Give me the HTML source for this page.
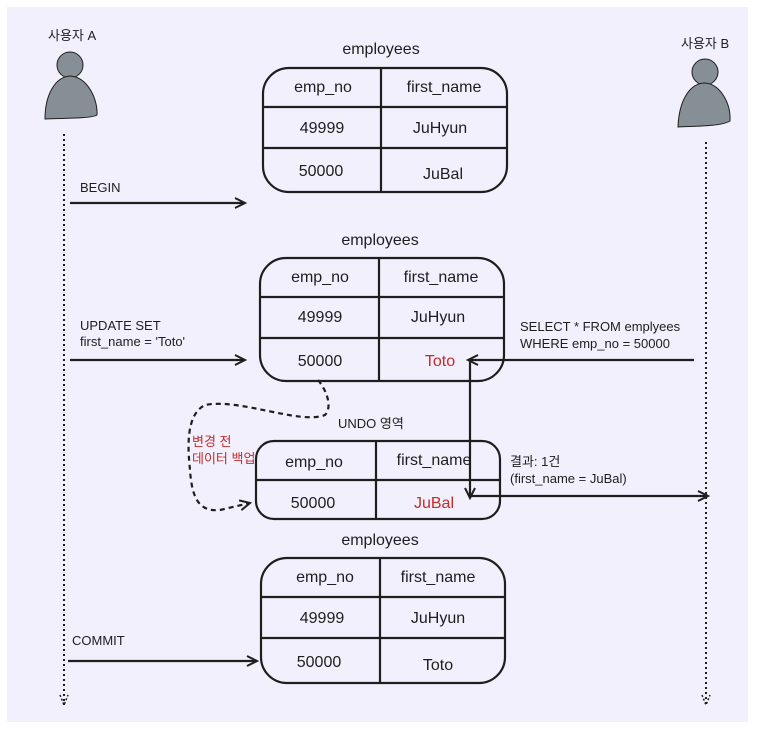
<!DOCTYPE html>
<html><head><meta charset="utf-8"><style>
html,body{margin:0;padding:0;background:#fff;}
svg{display:block;}
text{font-family:"Liberation Sans","Noto Sans CJK KR",sans-serif;fill:#1e1e1e;}
</style></head><body>
<svg width="758" height="739" viewBox="0 0 758 739" xmlns="http://www.w3.org/2000/svg">
<defs>
<marker id="ah" markerWidth="14" markerHeight="14" refX="11" refY="7" orient="auto" markerUnits="userSpaceOnUse">
<path d="M1,2 L11,7 L1,12" fill="none" stroke="#1e1e1e" stroke-width="2"/>
</marker>
</defs>
<rect x="7" y="7" width="741" height="715" fill="#f1f0fc"/>

<text x="48" y="40" font-size="13">사용자 A</text>
<circle cx="70" cy="65" r="13" fill="#868e96" stroke="#1e1e1e" stroke-width="1"/>
<path d="M45,119 C45,95 55,77 70,76 C88,77 98,100 97,115 C90,119 60,118 45,119 Z" fill="#868e96" stroke="#1e1e1e" stroke-width="1"/>
<line x1="64" y1="134" x2="64" y2="705" stroke="#1e1e1e" stroke-width="2" stroke-dasharray="2,3"/>
<path d="M60,695 L64,705 L68,695" fill="none" stroke="#1e1e1e" stroke-width="1.5" stroke-dasharray="2,2"/>

<text x="681" y="48" font-size="13">사용자 B</text>
<circle cx="705" cy="72" r="13" fill="#868e96" stroke="#1e1e1e" stroke-width="1"/>
<path d="M678,127 C679,100 690,83 705,83 C720,84 731,103 730,121 C720,127 690,126 678,127 Z" fill="#868e96" stroke="#1e1e1e" stroke-width="1"/>
<line x1="706" y1="142" x2="706" y2="705" stroke="#1e1e1e" stroke-width="2" stroke-dasharray="2,3"/>
<path d="M702,695 L706,705 L710,695" fill="none" stroke="#1e1e1e" stroke-width="1.5" stroke-dasharray="2,2"/>

<g stroke="#1e1e1e" stroke-width="2.2" fill="none">
<rect x="263" y="68" width="244" height="124" rx="26"/>
<line x1="263" y1="107" x2="507" y2="107"/><line x1="263" y1="148" x2="507" y2="148"/>
<line x1="381" y1="68" x2="381" y2="192"/>
<rect x="260" y="258" width="244" height="123" rx="26"/>
<line x1="260" y1="297" x2="504" y2="297"/><line x1="260" y1="338" x2="504" y2="338"/>
<line x1="379" y1="258" x2="379" y2="381"/>
<rect x="256" y="441" width="244" height="78" rx="18"/>
<line x1="256" y1="480" x2="500" y2="480"/>
<line x1="376" y1="441" x2="376" y2="519"/>
<rect x="261" y="558" width="244" height="125" rx="26"/>
<line x1="261" y1="597" x2="505" y2="597"/><line x1="261" y1="638" x2="505" y2="638"/>
<line x1="380" y1="558" x2="380" y2="683"/>

<line x1="70" y1="203" x2="245" y2="203" marker-end="url(#ah)"/>
<line x1="70" y1="360" x2="245" y2="360" marker-end="url(#ah)"/>
<line x1="694" y1="360" x2="468" y2="360" marker-end="url(#ah)"/>
<line x1="470" y1="362" x2="470" y2="498" marker-end="url(#ah)"/>
<line x1="470" y1="496" x2="708" y2="496" marker-end="url(#ah)"/>
<line x1="68" y1="661" x2="257" y2="661" marker-end="url(#ah)"/>
<path d="M318,380 C328,392 332,408 325,415 C300,425 240,398 205,405 C185,415 188,450 190,470 C192,500 200,512 220,510 L250,503" stroke-dasharray="5,4" marker-end="url(#ah)"/>
</g>

<g font-size="16" text-anchor="middle">
<text x="381" y="54">employees</text>
<text x="323" y="92">emp_no</text><text x="444" y="92">first_name</text>
<text x="322" y="133">49999</text><text x="440" y="133">JuHyun</text>
<text x="321" y="176">50000</text><text x="443" y="179">JuBal</text>

<text x="380" y="245">employees</text>
<text x="320" y="282">emp_no</text><text x="441" y="282">first_name</text>
<text x="320" y="322">49999</text><text x="438" y="322">JuHyun</text>
<text x="320" y="366">50000</text><text x="440" y="366" style="fill:#c92a2a">Toto</text>

<text x="314" y="467">emp_no</text><text x="434" y="465">first_name</text>
<text x="313" y="508">50000</text><text x="434" y="508" style="fill:#c92a2a">JuBal</text>

<text x="380" y="545">employees</text>
<text x="325" y="582">emp_no</text><text x="438" y="582">first_name</text>
<text x="322" y="623">49999</text><text x="438" y="623">JuHyun</text>
<text x="319" y="667">50000</text><text x="438" y="670">Toto</text>
</g>

<g font-size="13">
<text x="80" y="192">BEGIN</text>
<text x="80" y="330">UPDATE SET</text>
<text x="80" y="346">first_name = 'Toto'</text>
<text x="520" y="331">SELECT * FROM emplyees</text>
<text x="520" y="348">WHERE emp_no = 50000</text>
<text x="338" y="428">UNDO 영역</text>
<text x="192" y="446" style="fill:#c92a2a">변경 전</text>
<text x="192" y="463" style="fill:#c92a2a">데이터 백업</text>
<text x="510" y="466">결과: 1건</text>
<text x="510" y="483">(first_name = JuBal)</text>
<text x="72" y="645">COMMIT</text>
</g>
</svg>
</body></html>
